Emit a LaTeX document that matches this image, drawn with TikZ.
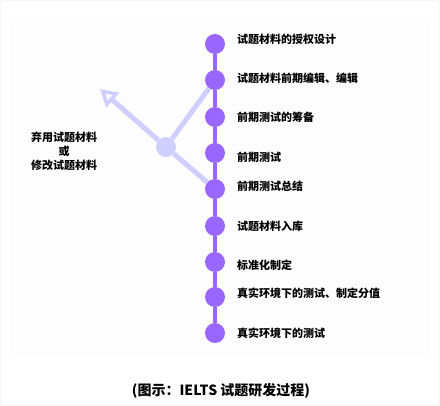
\documentclass[tikz,border=0pt]{standalone}
\usepackage{fontspec}
\setmainfont{Noto Sans CJK SC}
\usepackage{xcolor}
\usetikzlibrary{arrows.meta,positioning}
\definecolor{stepPurple}{RGB}{153,102,255}
\definecolor{backLilac}{RGB}{206,206,255}
\definecolor{frameGray}{RGB}{226,226,234}

\begin{document}
\begin{tikzpicture}[x=1pt,y=-1pt,
    stepdot/.style={circle,fill=stepPurple,minimum size=20pt,inner sep=0pt},
    steptext/.style={anchor=west,inner sep=0pt,font=\bfseries\fontsize{11}{13}\selectfont}]
    \useasboundingbox (0,0) rectangle (440,406);

    % Frame and panel
    \draw[frameGray, rounded corners=2pt] (0.5,0.5) rectangle (439.5,405.5);
    \fill[black!0.8] (10,22) rectangle (430,355);

    % Steps
    \foreach \i/\y/\ty/\txt in {1/44/39/试题材料的授权设计,
                                2/80/78/试题材料前期编辑、编辑,
                                3/117/117/前期测试的筹备,
                                4/153/157/前期测试,
                                5/189/186/前期测试总结,
                                6/226/226/试题材料入库,
                                7/262/265/标准化制定,
                                8/297/293/真实环境下的测试、制定分值,
                                9/333/333/真实环境下的测试} {
        \node[stepdot] (s\i) at (215,\y) {};
        \node[steptext] (t\i) at (237,\ty) {\txt};
    }

    % Spine
    \foreach \i [evaluate=\i as \j using int(\i+1)] in {1,...,8} {
        \draw[stepPurple, line width=4pt] (s\i) -- (s\j);
    }

    % Branch back
    \node[circle, fill=backLilac, minimum size=20pt, inner sep=0pt] (join) at (166,147) {};
    \coordinate (out) at (100,89);
    \draw[backLilac, line width=5pt] (join) -- (s2);
    \draw[backLilac, line width=5pt] (join) -- (s5);
    \draw[backLilac, line width=5pt,
          -{Triangle[open, length=17pt, width=19pt, line width=3.5pt]}] (join) -- (out);

    % Side text
    \node[align=center, inner sep=0pt, font=\bfseries\fontsize{11}{14}\selectfont] (alt) at (64,151)
        {弃用试题材料\\或\\修改试题材料};

    % Caption
    \node[font=\bfseries\fontsize{14}{16}\selectfont] (cap) at (221,391) {(图示：IELTS 试题研发过程)};
\end{tikzpicture}
\end{document}
